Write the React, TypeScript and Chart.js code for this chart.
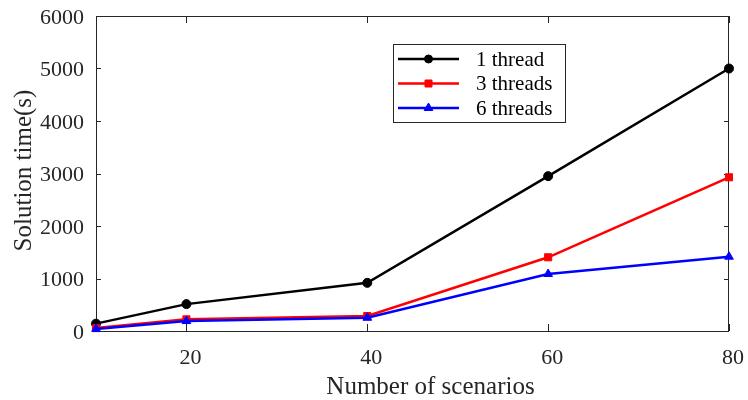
import React, { useEffect, useRef } from "react";
import { Chart, registerables } from "chart.js";

Chart.register(...registerables);

const scenarios = [10, 20, 40, 60, 80];
const oneThread = [140, 512, 917, 2950, 5000];
const threeThreads = [55, 222, 285, 1404, 2928];
const sixThreads = [40, 190, 252, 1086, 1415];
const seriesLabels = ["1 thread", "3 threads", "6 threads"];
const seriesColors = ["#000000", "#ff0000", "#0000ff"];
const seriesMarkers = ["circle", "rect", "triangle"];
const xTicks = [20, 40, 60, 80];
const yTicks = [0, 1000, 2000, 3000, 4000, 5000, 6000];
const xTitle = "Number of scenarios";
const yTitle = "Solution time(s)";

const AXIS_COLOR = "#262626";
const FONT = "'Liberation Serif', 'Times New Roman', serif";

function drawMarker(ctx: CanvasRenderingContext2D, style: string, x: number, y: number, color: string) {
  ctx.save();
  ctx.fillStyle = color;
  ctx.strokeStyle = color;
  ctx.lineWidth = 1;
  ctx.beginPath();
  if (style === "circle") {
    ctx.arc(x, y, 4, 0, Math.PI * 2);
  } else if (style === "rect") {
    ctx.rect(x - 3.5, y - 3.5, 7, 7);
  } else {
    const r = 5;
    for (let k = 0; k < 3; k++) {
      const a = (k * 2 * Math.PI) / 3;
      const px = x + Math.sin(a) * r;
      const py = y - Math.cos(a) * r;
      if (k === 0) ctx.moveTo(px, py);
      else ctx.lineTo(px, py);
    }
    ctx.closePath();
  }
  ctx.fill();
  ctx.stroke();
  ctx.restore();
}

const framePlugin = {
  id: "frame",
  beforeDatasetsDraw(chart: any) {
    const { ctx, chartArea } = chart;
    const { left, right, top, bottom } = chartArea;
    const xs = chart.scales.x;
    const ys = chart.scales.y;
    ctx.save();
    ctx.strokeStyle = AXIS_COLOR;
    ctx.lineWidth = 1;
    ctx.strokeRect(left + 0.5, top + 0.5, right - left - 1, bottom - top);
    ctx.beginPath();
    xTicks.forEach((v) => {
      const px = Math.round(xs.getPixelForValue(v)) + 0.5;
      ctx.moveTo(px, bottom);
      ctx.lineTo(px, bottom - 7);
      ctx.moveTo(px, top);
      ctx.lineTo(px, top + 7);
    });
    yTicks.forEach((v) => {
      const py = Math.round(ys.getPixelForValue(v)) + 0.5;
      ctx.moveTo(left, py);
      ctx.lineTo(left + 5, py);
      ctx.moveTo(right, py);
      ctx.lineTo(right - 5, py);
    });
    ctx.stroke();
    // axis titles
    ctx.fillStyle = AXIS_COLOR;
    ctx.font = `25px ${FONT}`;
    ctx.textAlign = "center";
    ctx.textBaseline = "alphabetic";
    ctx.fillText(xTitle, (left + right) / 2 + 18, 394);
    ctx.save();
    ctx.translate(31, (top + bottom) / 2 - 3);
    ctx.rotate(-Math.PI / 2);
    ctx.fillText(yTitle, 0, 0);
    ctx.restore();
    ctx.restore();
  },
  afterDatasetsDraw(chart: any) {
    const { ctx } = chart;
    ctx.save();
    ctx.fillStyle = "#ffffff";
    ctx.fillRect(393.5, 44.5, 172, 78);
    ctx.strokeStyle = AXIS_COLOR;
    ctx.lineWidth = 1;
    ctx.strokeRect(393.5, 44.5, 172, 78);
    chart.data.datasets.forEach((ds: any, i: number) => {
      const y = 59 + i * 24.5;
      ctx.strokeStyle = ds.borderColor;
      ctx.lineWidth = 2.5;
      ctx.beginPath();
      ctx.moveTo(398, y);
      ctx.lineTo(459, y);
      ctx.stroke();
      drawMarker(ctx, ds.pointStyle, 428.5, y, ds.borderColor);
      ctx.fillStyle = "#000000";
      ctx.font = `21px ${FONT}`;
      ctx.textAlign = "left";
      ctx.textBaseline = "middle";
      ctx.fillText(ds.label, 476, y + 1);
    });
    ctx.restore();
  },
};

export default function App() {
  const canvasRef = useRef<HTMLCanvasElement | null>(null);

  useEffect(() => {
    const canvas = canvasRef.current;
    if (!canvas) return;
    const seriesValues = [oneThread, threeThreads, sixThreads];
    const chart = new Chart(canvas, {
      type: "line",
      data: {
        datasets: seriesValues.map((vals, i) => ({
          label: seriesLabels[i],
          data: scenarios.map((s, j) => ({ x: s, y: vals[j] })),
          borderColor: seriesColors[i],
          backgroundColor: seriesColors[i],
          borderWidth: 2.5,
          pointStyle: seriesMarkers[i] as any,
          pointRadius: i === 0 ? 4.5 : 5,
          pointBorderWidth: 1,
          pointHoverRadius: 5,
          tension: 0,
          fill: false,
          clip: false as any,
          order: 2 - i,
        })),
      },
      options: {
        responsive: false,
        animation: false,
        devicePixelRatio: 1,
        layout: { padding: { left: 0, top: 16, right: 19, bottom: 0 } },
        plugins: {
          legend: { display: false },
          tooltip: { enabled: false },
        },
        scales: {
          x: {
            type: "linear",
            min: 10,
            max: 80,
            grid: { display: false },
            border: { display: false },
            title: { display: false },
            ticks: {
              color: AXIS_COLOR,
              font: { family: FONT, size: 22 },
              padding: 6,
              labelOffset: 4,
              maxRotation: 0,
              callback: (v: any) => String(v),
            },
            afterBuildTicks: (scale: any) => {
              scale.ticks = xTicks.map((v) => ({ value: v }));
            },
            afterFit: (scale: any) => {
              scale.height = 69;
              scale.paddingLeft = 0;
              scale.paddingRight = 0;
            },
          },
          y: {
            type: "linear",
            min: 0,
            max: 6000,
            grid: { display: false },
            border: { display: false },
            title: { display: false },
            ticks: {
              color: AXIS_COLOR,
              font: { family: FONT, size: 22 },
              padding: 4,
              labelOffset: 2,
              callback: (v: any) => String(v),
            },
            afterBuildTicks: (scale: any) => {
              scale.ticks = yTicks.map((v) => ({ value: v }));
            },
            afterFit: (scale: any) => {
              scale.width = 96;
              scale.paddingTop = 0;
              scale.paddingBottom = 0;
            },
          },
        },
      },
      plugins: [framePlugin],
    });
    return () => chart.destroy();
  }, []);

  return (
    <div style={{ position: "fixed", left: 0, top: 0, width: 748, height: 400, background: "#fff" }}>
      <canvas ref={canvasRef} width={748} height={400} />
    </div>
  );
}
